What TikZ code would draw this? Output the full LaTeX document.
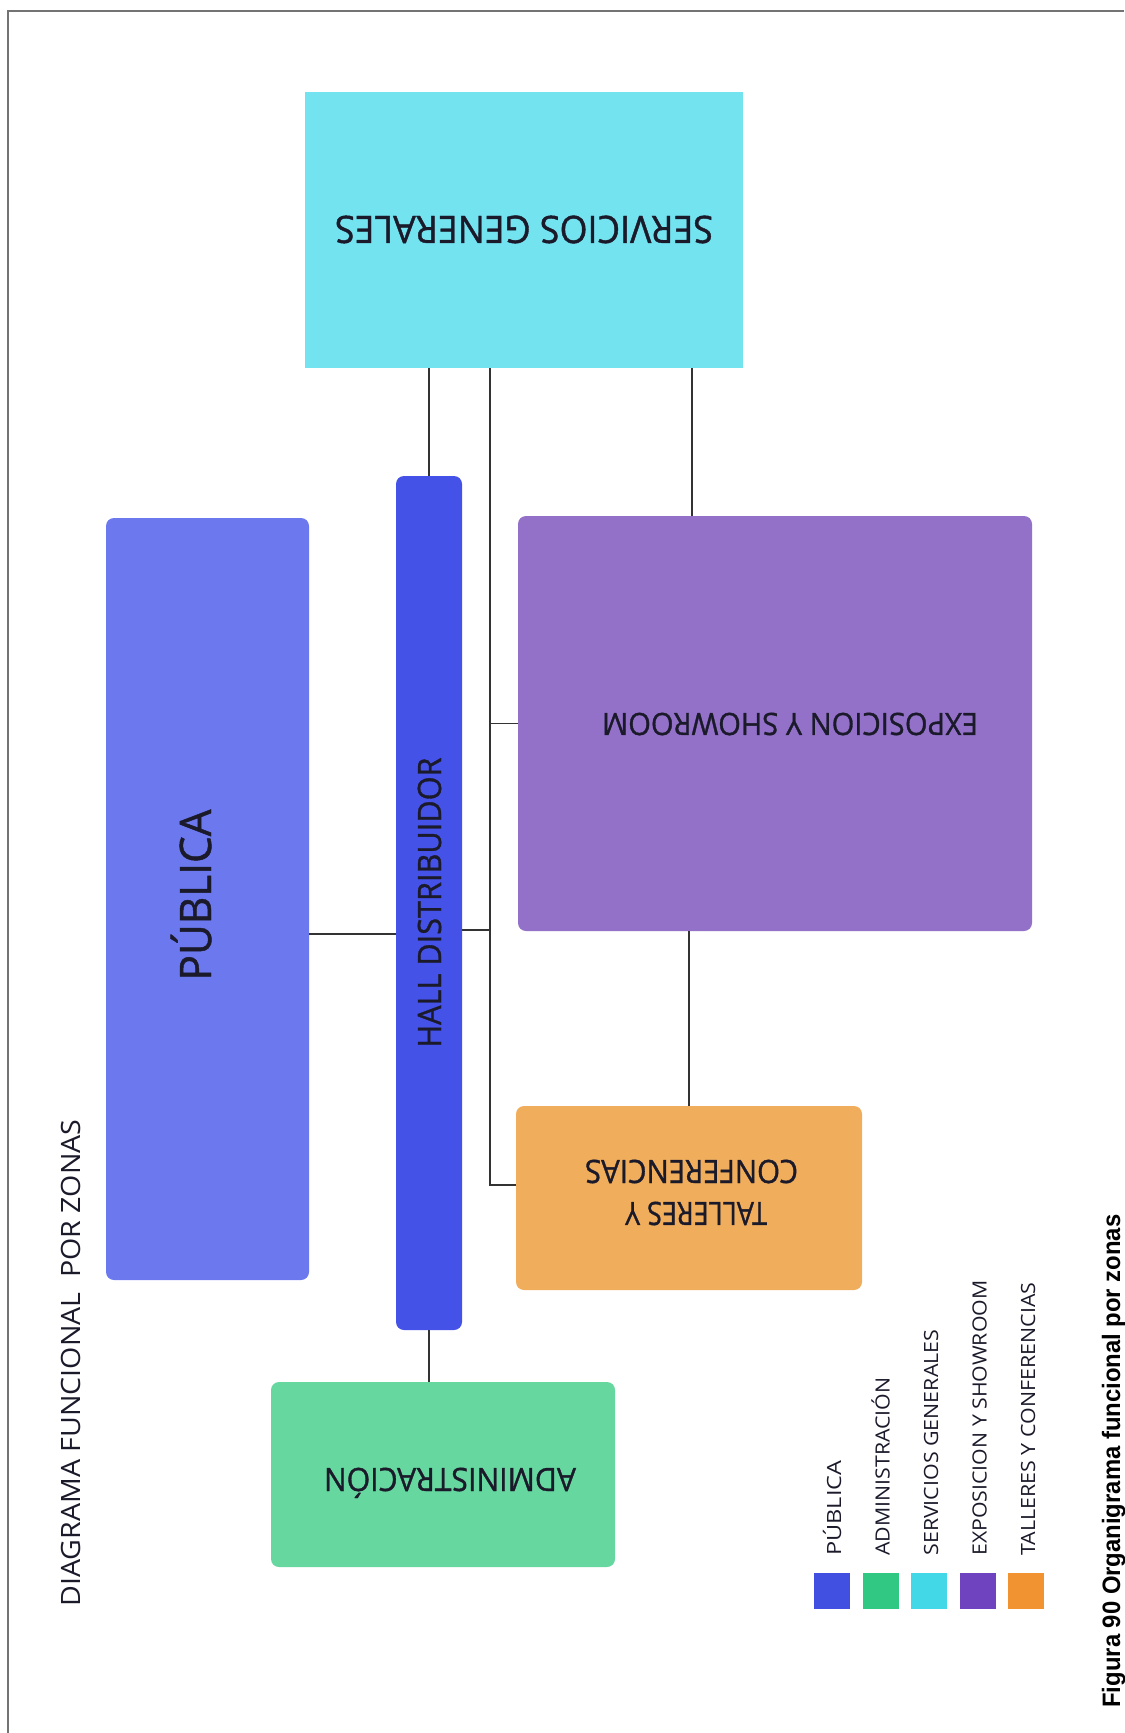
\documentclass[tikz,border=0pt]{standalone}
\usepackage{fontspec}
\usepackage{graphicx}
\setmainfont{Open Sans}
\newfontfamily\zonafont[FakeBold=1.1]{Open Sans}
\newfontfamily\figfont{Liberation Sans}

\definecolor{cservicios}{HTML}{74E3F0}
\definecolor{cpublica}{HTML}{6B78EE}
\definecolor{chall}{HTML}{4452E8}
\definecolor{cexpo}{HTML}{9371C8}
\definecolor{ctalleres}{HTML}{F0AE5D}
\definecolor{cadmin}{HTML}{67D7A0}
\definecolor{lpublica}{HTML}{4250E2}
\definecolor{ladmin}{HTML}{30C883}
\definecolor{lservicios}{HTML}{42D8E8}
\definecolor{lexpo}{HTML}{6F42C0}
\definecolor{ltalleres}{HTML}{F29331}
\definecolor{texto}{HTML}{1B1A2A}

% texto a un ancho fijo: ancho, cuerpo, texto
\newcommand{\ancho}[3]{\resizebox{#1}{\height}{\fontsize{#2}{#2}\selectfont #3}}

\begin{document}
\begin{tikzpicture}[x=0.5pt, y=-0.5pt,
  zona/.style={rectangle, rounded corners=4pt, inner sep=0pt},
  etiqueta/.style={inner sep=0pt, anchor=base, text=texto},
  enlace/.style={draw=black!80, line width=0.7pt},
  muestra/.style={rectangle, inner sep=0pt, minimum size=18pt}]
\useasboundingbox (0,0) rectangle (1124,1733);
\draw[line width=0.8pt, black!55] (8,1733) -- (8,11) -- (1124,11);

% zonas
\node[zona, sharp corners, fill=cservicios, minimum width=219pt, minimum height=138pt] (servicios) at (523.5,230) {};
\node[zona, fill=cpublica, minimum width=101.5pt, minimum height=381pt] (publica) at (207.5,899) {};
\node[zona, fill=chall, minimum width=33pt, minimum height=427pt] (hall) at (429,903) {};
\node[zona, fill=cexpo, minimum width=257pt, minimum height=207.5pt] (expo) at (775,723.5) {};
\node[zona, fill=ctalleres, minimum width=173pt, minimum height=92pt] (talleres) at (689,1198) {};
\node[zona, fill=cadmin, minimum width=172pt, minimum height=92.5pt] (admin) at (443,1474.5) {};

% textos de las zonas
\node[etiqueta, rotate=180] (servicios-t) at (524,216) {\ancho{189pt}{18.9pt}{\zonafont SERVICIOS GENERALES}};
\node[etiqueta, rotate=90] (publica-t) at (211,895) {\ancho{85.5pt}{21.7pt}{\zonafont PÚBLICA}};
\node[etiqueta, rotate=90] (hall-t) at (441,902.5) {\ancho{145pt}{16.1pt}{\zonafont HALL DISTRIBUIDOR}};
\node[etiqueta, rotate=180] (expo-t) at (790,713) {\ancho{188pt}{15.4pt}{\zonafont EXPOSICION Y SHOWROOM}};
\node[etiqueta, rotate=180] (talleres-a) at (696,1202) {\ancho{71pt}{16.1pt}{\zonafont TALLERES Y}};
\node[etiqueta, rotate=180] (talleres-b) at (691.5,1160) {\ancho{106.5pt}{16.1pt}{\zonafont CONFERENCIAS}};
\node[etiqueta, rotate=180] (admin-t) at (450,1468) {\ancho{126pt}{16.1pt}{\zonafont ADMINISTRACIÓN}};
\node[etiqueta, rotate=90] (titulo) at (80,1363) {\ancho{243.5pt}{13.3pt}{DIAGRAMA FUNCIONAL\ \ POR ZONAS}};

% enlaces
\coordinate (eje) at (490,0);
\coordinate (bajada) at (692,0);
\draw[enlace] (servicios.south -| hall.north) -- (hall.north);
\draw[enlace] (servicios.south -| eje) |- ([yshift=6.5pt]talleres.west);
\draw[enlace] (expo.west) -- (expo.west -| eje);
\draw[enlace] ([yshift=-13.5pt]hall.east) -- ([yshift=-13.5pt]hall.east -| eje);
\draw[enlace] ([yshift=-17.5pt]publica.east) -- ([yshift=-17.5pt]publica.east -| hall.west);
\draw[enlace] (servicios.south -| bajada) -- (expo.north -| bajada);
\draw[enlace] (expo.south -| talleres.north) -- (talleres.north);
\draw[enlace] (hall.south) -- (admin.north -| hall.south);

% leyenda
\foreach \col/\txt/\len [count=\i from 0] in {lpublica/PÚBLICA/47.5pt, ladmin/ADMINISTRACIÓN/89pt, lservicios/SERVICIOS GENERALES/113pt, lexpo/EXPOSICION Y SHOWROOM/137.5pt, ltalleres/TALLERES Y CONFERENCIAS/136.5pt} {
  \node[muestra, fill=\col] (m\i) at (832+48.5*\i,1591) {};
  \node[etiqueta, rotate=90, anchor=base west] (l\i) at (841+48.5*\i,1556) {\ancho{\len}{9.8pt}{\txt}};
}

\node[etiqueta, rotate=90, anchor=base west, text=black] (figura) at (1120,1708) {\ancho{246.5pt}{12.6pt}{\figfont\bfseries Figura 90 Organigrama funcional por zonas}};
\end{tikzpicture}
\end{document}
